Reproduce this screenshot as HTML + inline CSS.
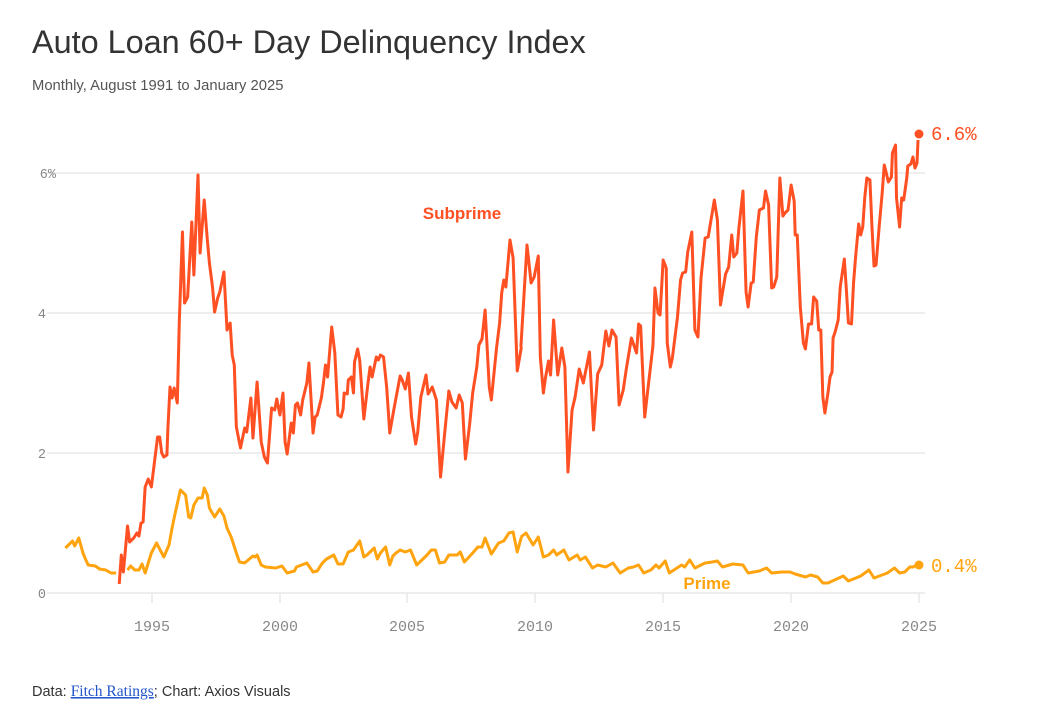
<!DOCTYPE html>
<html><head><meta charset="utf-8"><style>
body{margin:0;background:#fff;width:1054px;height:718px;overflow:hidden;font-family:"Liberation Sans",sans-serif}
polyline{vector-effect:non-scaling-stroke}
</style></head><body>
<svg width="1054" height="718" xmlns="http://www.w3.org/2000/svg">
<text x="32" y="53" font-size="32.4" fill="#333" font-family="Liberation Sans, sans-serif">Auto Loan 60+ Day Delinquency Index</text>
<text x="32" y="90" font-size="14.8" fill="#555">Monthly, August 1991 to January 2025</text>
<g stroke="#e8e8e8" stroke-width="1.5">
<line x1="47" x2="925" y1="173" y2="173"/><line x1="47" x2="925" y1="313" y2="313"/><line x1="47" x2="925" y1="453" y2="453"/><line x1="47" x2="925" y1="593" y2="593"/>
<line x1="152" x2="152" y1="593" y2="603"/><line x1="280" x2="280" y1="593" y2="603"/><line x1="407" x2="407" y1="593" y2="603"/><line x1="535" x2="535" y1="593" y2="603"/><line x1="663" x2="663" y1="593" y2="603"/><line x1="791" x2="791" y1="593" y2="603"/><line x1="919" x2="919" y1="593" y2="603"/>
</g>
<g font-family="Liberation Mono, monospace" font-size="13.5" fill="#888" text-anchor="end">
<text x="56" y="178">6%</text><text x="46" y="318">4</text><text x="46" y="458">2</text><text x="46" y="598">0</text>
</g>
<g font-family="Liberation Mono, monospace" font-size="15" fill="#888" text-anchor="middle">
<text x="152" y="631">1995</text><text x="280" y="631">2000</text><text x="407" y="631">2005</text><text x="535" y="631">2010</text><text x="663" y="631">2015</text><text x="791" y="631">2020</text><text x="919" y="631">2025</text>
</g>
<g transform="matrix(1.0365,0,0,1,-1,0)" fill="none" stroke-width="3" stroke-linejoin="round">
<polyline stroke="#ffa40f" points="64,548 71,541 73,546 77,538 81,553 83,558 86,565 93,566 97,569 103,570 108,573 113,573"/>
<polyline stroke="#ffa40f" points="124,570 127,566 131,570 135,570 138,564 141,573 147,553 152,543 154,547 159,557 164,545 167,528 170,513 175,490 180,495 183,517 185,518 188,505 192,498 196,498 198,488 201,495 203,508 208,517 213,509 217,516 220,528 224,537 229,553 232,562 237,563 245,556 247,557 249,555 253,565 257,567 267,568 273,566 278,573 285,571 287,567 297,563 303,572 307,571 312,563 316,559 323,555 327,564 332,564 337,552 342,550 348,541 352,557 355,555 362,548 365,559 368,553 373,547 377,565 380,556 383,553 387,550 392,552 397,550 403,565 410,558 413,555 417,550 421,550 425,563 430,562 434,555 442,555 445,552 449,562 457,553 462,547 466,547 469,538 475,554 482,543 487,541 492,533 496,532 500,552 504,537"/>
<polyline stroke="#ff5023" points="116,584 118,555 120,572 124,526 126,542 130,538 133,533 135,536 137,523 139,522 141,487 144,479 147,487 153,437 155,437 157,453 159,457 162,455 163,427 165,387 167,398 169,388 172,403 174,320 177,232 179,303 182,297 186,222 188,275 192,175 194,253 198,200 201,240 203,263 206,287 208,312 211,298 213,292 217,272 220,330 223,323 225,355 227,365 229,427 233,448 237,428 239,432 243,398 245,438 249,382 253,442 256,457 259,463 263,408 266,410 268,399 271,415 274,393 276,442 278,454 282,423 284,433 286,405 288,403 291,415 293,400 297,383 299,363 303,433 305,417 307,415 311,398 313,383 315,365 317,377 321,327 324,353 327,415 330,417 332,409 333,393 336,394 337,380 340,377 342,393 343,362 346,349 348,360 352,419 356,383 358,367 360,377 364,357 366,360 368,355 371,357 374,387 377,433 380,415 383,398 387,376 389,380 392,389 395,373 398,417 402,444 404,432 407,397 412,375 414,394 418,387 422,400 426,477 430,433 434,391 437,402 441,408 444,395 447,403 450,459 454,425 457,393 461,367 463,345 466,339 469,310 473,387 475,400 480,348 483,323 485,293 487,280 489,287 493,240 496,258 500,371 504,347"/>
</g>
<g transform="matrix(1.0236,0,0,1,-11.4,0)" fill="none" stroke-width="3" stroke-linejoin="round">
<polyline stroke="#ffa40f" points="520,537 525,533 532,545 537,537 542,557 547,555 552,550 555,555 562,550 567,560 575,555 578,560 583,557 590,568 595,565 603,567 610,563 617,573 625,568 630,567 635,565 640,573 647,570 652,565 655,568 661,561 665,573 677,565 680,567 685,560 690,568 700,563 707,562 712,561 717,567 727,564 737,565 742,573 753,571 760,568 765,573 775,572 783,572 788,574 798,577 803,575 810,577 815,583 820,583 835,576 840,581 852,576 860,570 865,578 878,573 885,568 890,573 895,572 900,567 903,567 907,565"/>
<polyline stroke="#ff5023" points="520,347 526,245 530,283 533,277 537,256 539,357 542,393 544,378 547,361 549,375 552,320 556,375 560,348 563,367 566,472 570,410 573,397 577,369 581,383 587,352 591,430 595,374 599,365 603,331 606,346 609,330 613,337 616,405 620,390 623,369 628,338 633,353 635,324 637,326 641,417 644,390 649,346 651,288 654,313 656,315 659,260 662,268 663,343 666,367 668,358 673,317 676,280 678,273 681,272 683,252 687,232 690,330 693,337 696,278 700,238 703,237 709,200 712,220 715,305 720,274 723,267 726,235 728,257 731,253 733,228 737,191 740,292 742,307 745,283 747,282 750,237 753,210 757,208 759,191 762,205 765,288 767,287 770,277 773,178 776,216 778,213 781,210 784,185 787,201 788,235 790,235 793,307 796,343 798,349 801,324 804,324 806,297 809,301 811,330 813,330 815,397 817,413 820,393 822,377 824,372 825,338 827,332 830,320 832,287 836,259 838,290 840,323 843,324 845,283 847,257 850,224 852,235 854,227 856,197 858,178 861,180 863,227 865,266 867,265 870,227 873,193 875,165 877,173 879,182 882,177 883,153 886,145 887,198 890,227 892,198 894,200 897,178 898,166 901,164 903,157 905,168 907,163 908,140"/>
</g>
<circle cx="919" cy="134" r="4.5" fill="#ff5023"/>
<circle cx="919" cy="565" r="4.5" fill="#ffa40f"/>
<text x="931" y="140" font-family="Liberation Mono, monospace" font-size="19" fill="#ff5023">6.6%</text>
<text x="931" y="572" font-family="Liberation Mono, monospace" font-size="19" fill="#ffa40f">0.4%</text>
<text x="462" y="219" text-anchor="middle" font-size="17" font-weight="bold" fill="#ff5023">Subprime</text>
<text x="707" y="589" text-anchor="middle" font-size="17" font-weight="bold" fill="#ffa40f">Prime</text>
<text x="32" y="696" font-size="14.5" fill="#333">Data: <tspan font-family="Liberation Serif, serif" font-size="15.5" fill="#2255cc" text-decoration="underline">Fitch Ratings</tspan>; Chart: Axios Visuals</text>
</svg>
</body></html>
